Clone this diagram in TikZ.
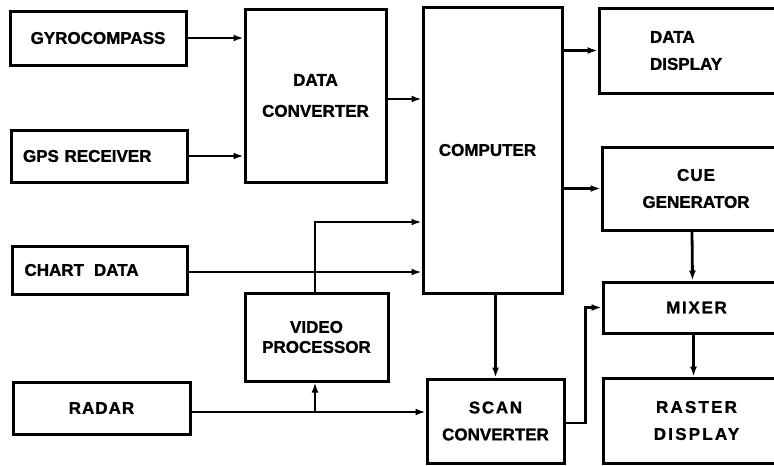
\documentclass[tikz,border=0pt]{standalone}
\usepackage{fontspec}
\setmainfont{Liberation Sans}[BoldFeatures={FakeBold=1.2}]
\usetikzlibrary{arrows.meta,calc}
\tikzset{
  box/.style={draw, line width=3pt, rectangle, inner sep=0pt, align=center,
    font=\fontsize{17}{27}\selectfont\bfseries},
  arr/.style={line width=2.8pt, -{Latex[length=10pt,width=7pt]}},
}
\begin{document}
\begin{tikzpicture}[x=1pt,y=-1pt]
\useasboundingbox (0,0) rectangle (774,466);
\clip (0,0) rectangle (774,466);
\node[box, minimum width=176pt, minimum height=54pt] (gyro) at (98,38) {GYROCOMPASS};
\node[box, minimum width=176pt, minimum height=52pt, text width=152pt, align=left] (gps) at (99,156) {GPS RECEIVER};
\node[box, minimum width=141pt, minimum height=173pt, font=\fontsize{17}{31}\selectfont\bfseries] (dc) at (315.5,95.5) {DATA\\CONVERTER};
\node[box, minimum width=139pt, minimum height=286pt] (comp) at (492.5,150) {COMPUTER\hspace*{10pt}};
\node[box, minimum width=191pt, minimum height=85pt, text width=89pt, align=left] (dd) at (694.5,50.5) {DATA\\DISPLAY};
\node[box, minimum width=188pt, minimum height=83pt] (cue) at (696,188.5) {{\addfontfeatures{LetterSpace=6}CUE}\\GENERATOR};
\node[box, minimum width=175pt, minimum height=48pt, text width=150pt, align=left] (chart) at (99.5,270) {CHART\hspace{10pt}DATA};
\node[box, minimum width=143pt, minimum height=88pt, font=\fontsize{17}{20}\selectfont\bfseries] (vp) at (316.5,337) {VIDEO\\PROCESSOR};
\node[box, minimum width=177pt, minimum height=52pt] (radar) at (101.5,408) {{\addfontfeatures{LetterSpace=6}RADAR}};
\node[box, minimum width=137pt, minimum height=84pt] (scan) at (495.5,421) {{\addfontfeatures{LetterSpace=10}SCAN}\\CONVERTER};
\node[box, minimum width=187pt, minimum height=51pt] (mixer) at (696.5,307.5) {{\addfontfeatures{LetterSpace=10}MIXER}};
\node[box, minimum width=187pt, minimum height=85pt] (raster) at (696.5,420.5) {{\addfontfeatures{LetterSpace=13}RASTER}\\{\addfontfeatures{LetterSpace=13}DISPLAY}};
% connectors
\draw[arr] (gyro.east) -- (gyro.east -| dc.west);
\draw[arr] (gps.east) -- (gps.east -| dc.west);
\draw[arr] ([yshift=-3.5pt]dc.east) -- ([yshift=-3.5pt]dc.east -| comp.west);
\draw[arr] (comp.east |- dd.west) -- (dd.west);
\draw[arr] (comp.east |- cue.west) -- (cue.west);
\draw[arr] ([yshift=-2pt]chart.east) -- ([yshift=-2pt]chart.east -| comp.west);
\draw[arr] ([xshift=-1.5pt]vp.north) |- ([yshift=-72pt]comp.west);
\coordinate (junc) at ([xshift=-1.5pt]vp.south |- 0,412);
\draw[arr] ([yshift=-4pt]radar.east) -- (junc -| scan.west);
\draw[arr] (junc) -- ([xshift=-1.5pt]vp.south);
\draw[arr] (scan.north |- comp.south) -- (scan.north);
\draw[arr] ([yshift=-2pt]scan.east) -- ++(20,0) |- (mixer.west);
\draw[arr] ([xshift=-4pt]cue.south) -- ([xshift=-4pt]mixer.north);
\draw[arr] ([xshift=-3pt]mixer.south) -- ([xshift=-3pt]raster.north);
\end{tikzpicture}
\end{document}
